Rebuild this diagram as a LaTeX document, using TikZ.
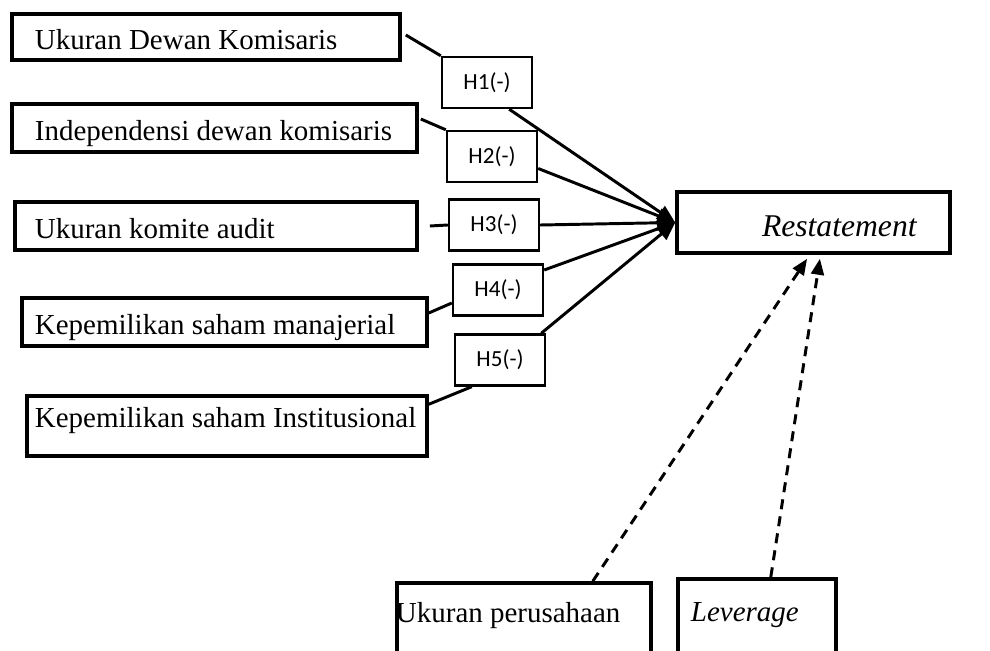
\documentclass[tikz,border=0pt]{standalone}
\usepackage{fontspec}
\setmainfont{Liberation Serif}
\newfontfamily\hfont{Carlito}
\usetikzlibrary{arrows.meta}
\newcommand{\lefttext}[3]{\makebox[#1][l]{\hspace*{#2}#3}}

\begin{document}
\begin{tikzpicture}[x=0.025cm,y=-0.025cm,
	mainbox/.style={draw,line width=2.5pt,inner sep=0pt,text height=0.75cm,text depth=0.15cm,font=\fontsize{20.6}{24}\selectfont},
	hbox/.style={draw,line width=1.7pt,inner sep=0pt,minimum width=2.25cm,minimum height=1.275cm,font=\hfont\fontsize{16.4}{19}\selectfont},
	link/.style={line width=2.1pt},
	arrowline/.style={line width=2.1pt,-{Triangle[length=0.45cm,width=0.38cm]}},
	dashline/.style={line width=2.1pt,dash pattern=on 0.25cm off 0.18cm,-{Triangle[length=0.4cm,width=0.32cm]}}]
	\useasboundingbox (0,0) rectangle (990,650);
	\clip (0,0) rectangle (990,650);
	
	% variabel independen
	\node[mainbox,minimum height=1.15cm] (ukd) at (206,37) {\lefttext{9.7cm}{0.575cm}{Ukuran Dewan Komisaris}};
	\node[mainbox,minimum height=1.2cm] (idk) at (214.5,128) {\lefttext{10.125cm}{0.575cm}{Independensi dewan komisaris}};
	\node[mainbox,minimum height=1.2cm] (uka) at (216,226) {\lefttext{10.05cm}{0.5cm}{Ukuran komite audit}};
	\node[mainbox,minimum height=1.2cm] (kms) at (224.5,322) {\lefttext{10.125cm}{0.325cm}{Kepemilikan saham manajerial}};
	\node[mainbox,minimum height=1.5cm,text depth=0.675cm] (kmi) at (227,426) {\lefttext{10cm}{0.2cm}{Kepemilikan saham Institusional}};
	
	% variabel dependen dan kontrol
	\node[mainbox,minimum height=1.525cm,text height=0.85cm,font=\fontsize{22.5}{26}\selectfont] (rst) at (813.5,222.5) {\lefttext{6.825cm}{2.125cm}{\textit{Restatement}}};
	\node[mainbox,minimum height=2.675cm,text depth=1.45cm] (ukp) at (524,636.5) {\lefttext{6.35cm}{-0.025cm}{Ukuran perusahaan}};
	\node[mainbox,minimum height=2.775cm,text depth=1.4cm] (lev) at (757,634.5) {\lefttext{3.95cm}{0.325cm}{\textit{Leverage}}};
	
	% hipotesis
	\node[hbox] (h1) at (487,82.5) {H1(-)};
	\node[hbox] (h2) at (492,156.5) {H2(-)};
	\node[hbox] (h3) at (494,225) {H3(-)};
	\node[hbox] (h4) at (498,290) {H4(-)};
	\node[hbox] (h5) at (500,360) {H5(-)};
	
	\draw[link] ([xshift=0.1cm,yshift=0.05cm]ukd.east) -- (h1.north west);
	\draw[link] ([xshift=0.05cm,yshift=0.225cm]idk.east) -- (h2.north west);
	\draw[link] ([xshift=0.275cm]uka.east) -- (h3.west);
	\draw[link] ([yshift=0.225cm]kms.east) -- ([yshift=-0.325cm]h4.west);
	\draw[link] ([yshift=-0.25cm]kmi.north east) -- ([xshift=0.45cm]h5.south west);
	
	\draw[arrowline] ([xshift=-0.6cm]h1.south east) -- (rst.west);
	\draw[arrowline] ([yshift=-0.3cm]h2.east) -- (rst.west);
	\draw[arrowline] (h3.east) -- (rst.west);
	\draw[arrowline] ([yshift=0.5cm]h4.east) -- (rst.west);
	\draw[arrowline] ([xshift=-0.125cm]h5.north east) -- (rst.west);
	
	\draw[dashline] ([xshift=-1.5cm]ukp.north east) -- ([xshift=-0.16cm,yshift=-0.1cm]rst.south);
	\draw[dashline] ([xshift=-1.675cm]lev.north east) -- ([xshift=0.16cm,yshift=-0.1cm]rst.south);
\end{tikzpicture}
\end{document}
